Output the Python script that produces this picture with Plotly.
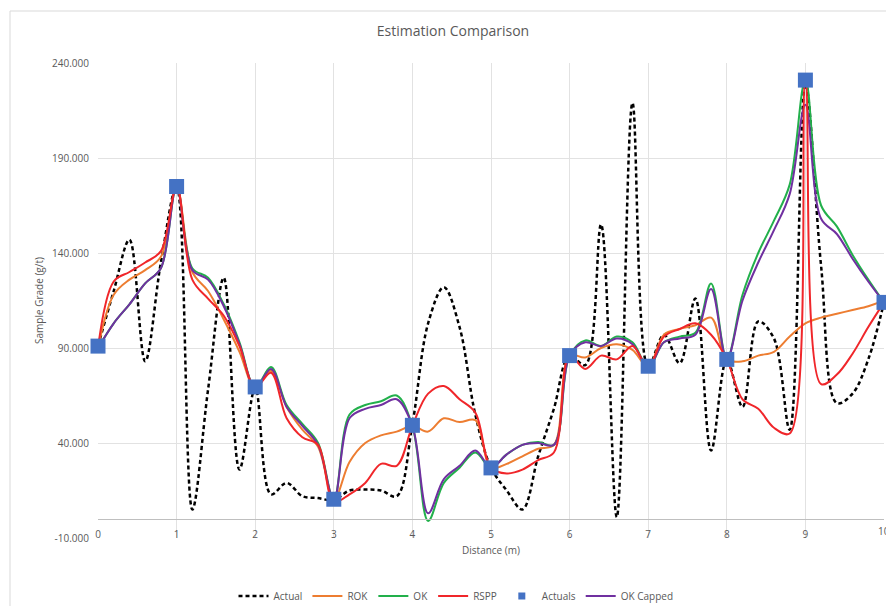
import plotly.graph_objects as go

# ---------------- data ----------------
distance = [0.0, 0.2, 0.4, 0.6, 0.8, 1.0, 1.2, 1.4, 1.6, 1.8,
            2.0, 2.2, 2.4, 2.6, 2.8, 3.0, 3.2, 3.4, 3.6, 3.8,
            4.0, 4.2, 4.4, 4.6, 4.8, 5.0, 5.2, 5.4, 5.6, 5.8,
            6.0, 6.2, 6.4, 6.6, 6.8, 7.0, 7.2, 7.4, 7.6, 7.8,
            8.0, 8.2, 8.4, 8.6, 8.8, 9.0, 9.2, 9.4, 9.6, 9.8, 10.0]

actual = [91, 120, 147, 83, 135, 175, 5, 68, 127, 26,
          69, 13, 19, 12, 11, 10, 15, 15.5, 15, 12,
          50, 103, 122, 101, 55, 27, 15, 5, 33, 58,
          86, 81, 155, 1, 219, 80, 97, 82, 116, 36,
          84, 59, 104, 95, 47, 229, 133, 61, 66, 84, 114]

rok = [90, 118, 126, 131, 138, 175, 130, 120, 105, 88,
       69, 78, 59, 47, 38, 10, 30, 40, 44, 46,
       49, 46, 53, 51, 52, 27, 29, 33, 37, 39,
       86, 85, 90, 92, 89, 80, 97, 100, 102, 106,
       84, 83, 86, 88, 96, 103, 106, 108, 110, 112, 115]

ok = [90, 103, 113, 124, 132, 175, 132, 127, 113, 93,
      69, 80, 60, 50, 40, 10, 55, 60, 62, 65,
      49, -1, 19, 27, 35, 27, 34, 39, 40.5, 39,
      86, 94, 91, 96, 93, 80, 93, 96, 98, 124,
      84, 118, 140, 157, 176, 231, 165, 154, 139, 126, 114]

rspp = [90, 125, 130, 135, 141, 175, 126, 116, 107, 91,
        69, 77, 53, 43, 39, 9, 13, 19, 29, 28,
        49, 66, 70, 63, 56, 27, 24, 26, 31, 35,
        86, 79, 86, 84, 91, 80, 96, 100, 103, 97,
        84, 63, 58, 48, 45, 231, 71, 76, 87, 101, 114]

ok_capped = [90, 103, 113, 124, 132, 175, 131, 126, 112, 92,
             69, 79, 59, 49, 39, 10, 53, 58, 60, 63,
             49, 3, 21, 28, 36, 27, 34, 39, 40, 39,
             86, 93, 91, 95, 92, 80, 93, 95, 97, 121,
             84, 115, 135, 152, 171, 218, 158, 150, 137, 125, 114]

actual_pts_x = [0, 1, 2, 3, 4, 5, 6, 7, 8, 9, 10]
actual_pts_y = [91, 175, 69.5, 10.4, 49.3, 26.9, 86, 80.4, 84, 231, 114]

y_tickvals = [-10, 40, 90, 140, 190, 240]
y_ticktext = ["-10.000", "40.000", "90.000", "140.000", "190.000", "240.000"]
x_tickvals = [0, 1, 2, 3, 4, 5, 6, 7, 8, 9]
x_ticktext = ["0", "1", "2", "3", "4", "5", "6", "7", "8", "9"]
x_last_label = "10"

# ---------------- figure ----------------
FONT = "Open Sans"
TXT = "#595959"
GRID = "#e2e2e2"

fig = go.Figure()

fig.add_trace(go.Scatter(x=distance, y=actual, name="Actual", mode="lines",
                         line=dict(color="#000000", width=2.5, dash="4px,3px",
                                   shape="spline", smoothing=1),
                         legendrank=1))
fig.add_trace(go.Scatter(x=distance, y=rok, name="ROK", mode="lines",
                         line=dict(color="#ED7D31", width=2, shape="spline", smoothing=1),
                         legendrank=2))
fig.add_trace(go.Scatter(x=distance, y=ok, name="OK", mode="lines",
                         line=dict(color="#22B04B", width=2, shape="spline", smoothing=1),
                         legendrank=3))
fig.add_trace(go.Scatter(x=distance, y=ok_capped, name="OK Capped", mode="lines",
                         line=dict(color="#7030A0", width=2, shape="spline", smoothing=1),
                         legendrank=6))
fig.add_trace(go.Scatter(x=distance, y=rspp, name="RSPP", mode="lines",
                         line=dict(color="#F0262A", width=2, shape="spline", smoothing=1),
                         legendrank=4))
fig.add_trace(go.Scatter(x=actual_pts_x, y=actual_pts_y, name="Actuals", mode="markers",
                         marker=dict(symbol="square", size=15, color="#4472C4"),
                         cliponaxis=False, showlegend=False))
# legend-only entry with the small square seen in the reference legend
fig.add_trace(go.Scatter(x=[None], y=[None], name="Actuals", mode="markers",
                         marker=dict(symbol="square", size=7, color="#4472C4"),
                         legendrank=5))

# plot area: x 98..884 px, y 63..538 px
zero_pos = (538 - 518.7) / 475.0

fig.update_layout(
    width=886, height=606,
    margin=dict(l=98, r=2, t=63, b=68, autoexpand=False),
    paper_bgcolor="white", plot_bgcolor="white",
    font=dict(family=FONT, size=10, color=TXT),
    title=dict(text="Estimation Comparison", font=dict(size=14, color=TXT, family=FONT),
               x=(453 - 98) / 786.0, xref="paper", xanchor="center",
               y=1 - 31 / 606.0, yref="container", yanchor="middle"),
    xaxis=dict(range=[0, 10], tickvals=x_tickvals, ticktext=x_ticktext,
               showgrid=True, gridcolor=GRID, gridwidth=1, automargin=False,
               anchor="free", position=zero_pos, showline=True, linecolor="#bfbfbf",
               linewidth=1, ticks="", zeroline=False, ticklabelstandoff=6,
               tickfont=dict(size=10, color=TXT),
               title=dict(text="Distance (m)", font=dict(size=10, color=TXT), standoff=7)),
    yaxis=dict(range=[-10, 240], tickvals=y_tickvals, ticktext=y_ticktext, showgrid=True,
               gridcolor=GRID, gridwidth=1, zeroline=False, showline=False, ticks="",
               ticklabelstandoff=8, automargin=False,
               tickfont=dict(size=10, color=TXT),
               title=dict(text="Sample Grade (g/t)", font=dict(size=10, color=TXT), standoff=6)),
    legend=dict(orientation="h", x=(456 - 98) / 786.0, xanchor="center",
                y=(538 - 596) / 475.0, yanchor="middle",
                font=dict(size=10, color=TXT), bgcolor="rgba(0,0,0,0)"),
    annotations=[
        dict(text=x_last_label, x=10, y=(538 - 531) / 475.0, xref="x", yref="paper",
             showarrow=False, xanchor="center", yanchor="middle",
             font=dict(size=10, color=TXT, family=FONT)),
    ],
    shapes=[
        dict(type="line", xref="paper", yref="paper",
             x0=(10 - 98) / 786.0, x1=(10 - 98) / 786.0, y0=-0.3, y1=(538 - 11) / 475.0,
             line=dict(color="#d9d9d9", width=1)),
        dict(type="line", xref="paper", yref="paper",
             x0=(10 - 98) / 786.0, x1=1.2, y0=(538 - 11) / 475.0, y1=(538 - 11) / 475.0,
             line=dict(color="#d9d9d9", width=1)),
    ],
)

fig.write_html("out.html")
